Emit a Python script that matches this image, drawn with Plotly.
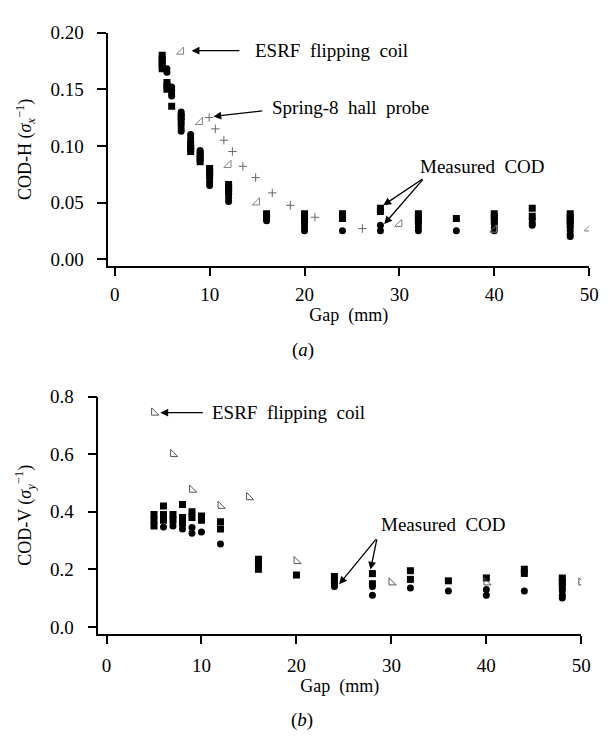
import plotly.graph_objects as go

# ---------------- DATA ----------------
# Panel (a): horizontal COD (sigma_x^-1) vs gap (mm)
h_sq_gap = [5, 5, 5, 5, 5, 5.5, 5.5, 5.5, 6, 7, 7, 8, 8, 8, 9, 9, 9, 10, 10, 10,
            12, 12, 12, 16, 16, 20, 20, 20, 24, 24, 28, 28, 32, 32, 32, 36,
            40, 40, 40, 44, 44, 48, 48, 48, 48]
h_sq_cod = [0.180, 0.177, 0.174, 0.171, 0.168, 0.156, 0.153, 0.150, 0.135, 0.126, 0.122,
            0.095, 0.098, 0.101, 0.086, 0.089, 0.092, 0.080, 0.077, 0.074,
            0.066, 0.063, 0.060, 0.040, 0.037, 0.040, 0.037, 0.034, 0.040, 0.036,
            0.045, 0.042, 0.040, 0.037, 0.034, 0.036, 0.040, 0.037, 0.034,
            0.045, 0.038, 0.040, 0.037, 0.034, 0.031]
h_ci_gap = [5.5, 5.5, 6, 6, 6, 6, 7, 7, 7, 7, 7, 8, 8, 8, 9, 9, 10, 10, 10,
            12, 12, 12, 16, 20, 20, 20, 24, 28, 28, 32, 32, 32, 36, 40, 40, 40,
            44, 44, 44, 48, 48, 48, 48]
h_ci_cod = [0.168, 0.165, 0.152, 0.149, 0.146, 0.144, 0.130, 0.127, 0.118, 0.115, 0.113,
            0.104, 0.107, 0.110, 0.094, 0.096, 0.071, 0.068, 0.065,
            0.057, 0.054, 0.051, 0.034, 0.031, 0.028, 0.025, 0.025, 0.030, 0.025,
            0.031, 0.028, 0.025, 0.025, 0.031, 0.028, 0.025,
            0.035, 0.032, 0.030, 0.028, 0.025, 0.022, 0.020]
h_esrf_gap = [7, 9, 12, 15, 30, 40, 50]
h_esrf_cod = [0.183, 0.121, 0.083, 0.050, 0.031, 0.026, 0.027]
h_spring_gap = [9.95, 10.6, 11.5, 12.4, 13.5, 14.85, 16.6, 18.5, 21.1, 26.1]
h_spring_cod = [0.125, 0.115, 0.105, 0.095, 0.082, 0.072, 0.0585, 0.0475, 0.037, 0.027]

# Panel (b): vertical COD (sigma_y^-1) vs gap (mm)
v_sq_gap = [5, 5, 5, 6, 6, 6, 7, 7, 8, 8, 8, 9, 9, 10, 10, 12, 12, 16, 16, 16,
            20, 24, 24, 28, 28, 32, 32, 36, 40, 44, 44, 48, 48, 48]
v_sq_cod = [0.39, 0.37, 0.35, 0.42, 0.39, 0.37, 0.39, 0.37, 0.425, 0.38, 0.36,
            0.40, 0.38, 0.385, 0.37, 0.365, 0.34, 0.235, 0.215, 0.20,
            0.18, 0.175, 0.16, 0.185, 0.15, 0.195, 0.165, 0.16, 0.17, 0.20, 0.185,
            0.17, 0.155, 0.14]
v_ci_gap = [6, 7, 8, 9, 9, 10, 12, 24, 24, 28, 28, 32, 36, 40, 40, 44, 48, 48, 48]
v_ci_cod = [0.347, 0.35, 0.34, 0.345, 0.325, 0.33, 0.288, 0.15, 0.14, 0.14, 0.11,
            0.135, 0.125, 0.13, 0.11, 0.125, 0.125, 0.11, 0.10]
v_esrf_gap = [5, 7, 9, 12, 15, 20, 30, 40, 50]
v_esrf_cod = [0.744, 0.60, 0.476, 0.42, 0.45, 0.228, 0.154, 0.154, 0.154]

x_ticks = [0, 10, 20, 30, 40, 50]
h_ticks = [0.00, 0.05, 0.10, 0.15, 0.20]
v_ticks = [0.0, 0.2, 0.4, 0.6, 0.8]

# ---------------- LAYOUT (pixels) ----------------
W, H = 610, 745
FONT = "Liberation Serif, Times New Roman, serif"
SP = " \u00a0"  # wide word spacing as in the original figure


def py(p):
    return (H - p) / H


fig = go.Figure()

blk = "black"
gray_a = "#808080"
gray_b = "#555555"

# panel (a)
fig.add_trace(go.Scatter(x=h_sq_gap, y=h_sq_cod, mode="markers", xaxis="x", yaxis="y",
                         marker=dict(symbol="square", size=7, color=blk), showlegend=False))
fig.add_trace(go.Scatter(x=h_ci_gap, y=h_ci_cod, mode="markers", xaxis="x", yaxis="y",
                         marker=dict(symbol="circle", size=7, color=blk), showlegend=False))
fig.add_trace(go.Scatter(x=h_esrf_gap, y=h_esrf_cod, mode="markers", xaxis="x", yaxis="y",
                         marker=dict(symbol="triangle-se-open", size=8, color=gray_a,
                                     line=dict(width=1, color=gray_a)), showlegend=False))
fig.add_trace(go.Scatter(x=h_spring_gap, y=h_spring_cod, mode="markers", xaxis="x", yaxis="y",
                         marker=dict(symbol="cross-thin-open", size=6, color="#666666",
                                     line=dict(width=1, color="#666666")), showlegend=False))
# panel (b)
fig.add_trace(go.Scatter(x=v_sq_gap, y=v_sq_cod, mode="markers", xaxis="x2", yaxis="y2",
                         marker=dict(symbol="square", size=7, color=blk), showlegend=False))
fig.add_trace(go.Scatter(x=v_ci_gap, y=v_ci_cod, mode="markers", xaxis="x2", yaxis="y2",
                         marker=dict(symbol="circle", size=7, color=blk), showlegend=False))
fig.add_trace(go.Scatter(x=v_esrf_gap, y=v_esrf_cod, mode="markers", xaxis="x2", yaxis="y2",
                         marker=dict(symbol="triangle-sw-open", size=8, color=gray_b,
                                     line=dict(width=1, color=gray_b)), showlegend=False))

axis_common = dict(showline=True, linecolor="black", linewidth=1.5, ticks="outside",
                   tickcolor="black", tickwidth=1.5, showgrid=False, zeroline=False,
                   ticklabeloverflow="allow",
                   tickfont=dict(family=FONT, size=19, color="black"))
title_font = dict(family=FONT, size=18, color="black")

fig.update_layout(
    width=W, height=H, margin=dict(l=0, r=0, t=0, b=0, pad=0),
    paper_bgcolor="white", plot_bgcolor="white",
    xaxis=dict(domain=[110 / W, 599 / W], range=[-0.69, 50], tickvals=x_ticks,
               anchor="y", ticklen=8, ticklabelstandoff=2,
               title=dict(text="Gap" + SP + "(mm)", standoff=5, font=title_font), **axis_common),
    yaxis=dict(domain=[py(261), py(23)], range=[-0.0061, 0.20], tickvals=h_ticks,
               tickformat=".2f", anchor="x", ticklen=9, ticklabelstandoff=10,
               title=dict(text="COD-H (<i>σ</i><sub><i>x</i></sub><sup>−1</sup>)", standoff=14,
                          font=title_font), **axis_common),
    xaxis2=dict(domain=[100 / W, 591 / W], range=[-0.86, 50], tickvals=x_ticks,
                anchor="y2", ticklen=8, ticklabelstandoff=5,
                title=dict(text="Gap" + SP + "(mm)", standoff=5, font=title_font), **axis_common),
    yaxis2=dict(domain=[py(636), py(394)], range=[-0.025, 0.80], tickvals=v_ticks,
                tickformat=".1f", anchor="x2", ticklen=9, ticklabelstandoff=10,
                title=dict(text="COD-V (<i>σ</i><sub><i>y</i></sub><sup>−1</sup>)", standoff=14,
                           font=title_font), **axis_common),
)

tfont = dict(family=FONT, size=19, color="black")
arrow = dict(showarrow=True, arrowhead=2, arrowsize=1.2, arrowwidth=1.3, arrowcolor="black", text="")

ann = [
    # panel (a)
    dict(x=8.1, y=0.184, ax=13.3, ay=0.184, xref="x", yref="y", axref="x", ayref="y", **arrow),
    dict(x=14.6, y=0.184, xref="x", yref="y", text="ESRF" + SP + "flipping" + SP + "coil",
         showarrow=False, xanchor="left", font=tfont),
    dict(x=10.4, y=0.126, ax=15.7, ay=0.131, xref="x", yref="y", axref="x", ayref="y", **arrow),
    dict(x=16.4, y=0.134, xref="x", yref="y", text="Spring-8" + SP + "hall" + SP + "probe",
         showarrow=False, xanchor="left", font=tfont),
    dict(x=28.3, y=0.0476, ax=32.6, ay=0.0716, xref="x", yref="y", axref="x", ayref="y", **arrow),
    dict(x=28.4, y=0.031, ax=32.6, ay=0.0716, xref="x", yref="y", axref="x", ayref="y", **arrow),
    dict(x=32.0, y=0.0817, xref="x", yref="y", text="Measured" + SP + "COD", showarrow=False,
         xanchor="left", font=tfont),
    dict(x=308 / W, y=py(347), xref="paper", yref="paper", text="(<i>a</i>)", showarrow=False,
         font=tfont),
    # panel (b)
    dict(x=5.67, y=0.744, ax=10.3, ay=0.744, xref="x2", yref="y2", axref="x2", ayref="y2", **arrow),
    dict(x=10.9, y=0.746, xref="x2", yref="y2", text="ESRF" + SP + "flipping" + SP + "coil",
         showarrow=False, xanchor="left", font=tfont),
    dict(x=24.5, y=0.148, ax=28.5, ay=0.309, xref="x2", yref="y2", axref="x2", ayref="y2", **arrow),
    dict(x=27.8, y=0.199, ax=28.5, ay=0.309, xref="x2", yref="y2", axref="x2", ayref="y2", **arrow),
    dict(x=28.7, y=0.357, xref="x2", yref="y2", text="Measured" + SP + "COD", showarrow=False,
         xanchor="left", font=tfont),
    dict(x=307 / W, y=py(737), xref="paper", yref="paper", text="(<i>b</i>)", showarrow=False,
         font=tfont),
]
fig.update_layout(annotations=ann)

fig.write_html("out.html", config={"displayModeBar": False},
               post_script="document.body.style.margin='0px';document.body.style.overflow='hidden';")
